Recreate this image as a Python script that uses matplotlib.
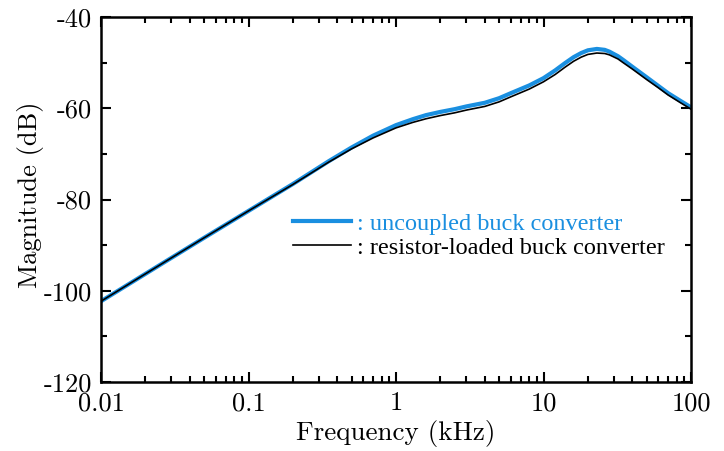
import numpy as np
import matplotlib.pyplot as plt
from matplotlib.lines import Line2D

plt.rcParams['axes.unicode_minus'] = False

# frequency points (kHz) and magnitudes (dB)
freq = [0.01, 0.02, 0.03, 0.05, 0.1, 0.2, 0.35, 0.5, 0.7, 1.0, 1.3, 1.6, 2.0,
        2.5, 3.0, 4.0, 5.0, 6.0, 8.0, 10.0, 12.0, 14.0, 16.0, 18.0, 20.0,
        23.0, 26.0, 28.0, 32.0, 35.0, 40.0, 50.0, 60.0, 70.0, 85.0, 100.0]
mag_uncoupled = [-102.3, -96.3, -92.8, -88.4, -82.5, -76.6, -71.6, -68.6,
                 -66.0, -63.7, -62.4, -61.5, -60.8, -60.2, -59.6, -58.8,
                 -57.8, -56.7, -55.0, -53.4, -51.7, -50.1, -48.8, -47.9,
                 -47.3, -47.0, -47.2, -47.6, -48.6, -49.5, -50.9, -53.2,
                 -55.1, -56.7, -58.4, -59.8]
mag_resistor = [-102.3, -96.3, -92.8, -88.4, -82.5, -76.7, -71.8, -68.9,
                -66.5, -64.3, -63.1, -62.3, -61.6, -61.0, -60.4, -59.6,
                -58.6, -57.5, -55.8, -54.2, -52.6, -51.0, -49.7, -48.8,
                -48.2, -47.9, -48.0, -48.3, -49.2, -50.1, -51.4, -53.7,
                -55.5, -57.1, -58.8, -60.2]

labels = [': uncoupled buck converter', ': resistor-loaded buck converter']
xticks = [0.01, 0.1, 1, 10, 100]
xticklabels = ['0.01', '0.1', '1', '10', '100']
yticks = [-120, -100, -80, -60, -40]
yticklabels = ['-120', '-100', '-80', '-60', '-40']

blue = '#1a8fe0'

fig = plt.figure(figsize=(7.24, 4.51), dpi=100)
ax = fig.add_axes([101 / 724, 69 / 451, 590 / 724, 365 / 451])

ax.plot(freq, mag_uncoupled, color=blue, lw=3.0, solid_capstyle='round')
ax.plot(freq, mag_resistor, color='black', lw=1.2)

ax.set_xscale('log')
ax.set_xlim(0.01, 100)
ax.set_ylim(-120, -40)

cm = 'cmr10'
ax.set_xticks(xticks)
ax.set_xticklabels(xticklabels, fontfamily=cm, fontsize=19)
ax.set_yticks(yticks)
ax.set_yticklabels(yticklabels, fontfamily=cm, fontsize=19)
ax.set_yticks([-110, -90, -70, -50], minor=True)

ax.tick_params(which='both', direction='in', top=True, right=True, width=1.5)
ax.tick_params(which='major', length=7)
ax.tick_params(which='minor', length=4)
ax.tick_params(axis='x', which='major', pad=7)
ax.tick_params(axis='y', which='major', pad=6.5)
for s in ax.spines.values():
    s.set_linewidth(1.8)

ax.set_xlabel('Frequency (kHz)', fontfamily=cm, fontsize=19.5, labelpad=3)
ax.set_ylabel('Magnitude (dB)', fontfamily=cm, fontsize=19)
ax.yaxis.set_label_coords(-0.097, 0.512)

handles = [Line2D([], [], color=blue, lw=3),
           Line2D([], [], color='black', lw=1.2)]
leg = ax.legend(handles, labels, loc='upper left', bbox_to_anchor=(0.325, 0.464),
                frameon=False, handlelength=2.4, handletextpad=0.25,
                labelspacing=0.09, borderaxespad=0, borderpad=0,
                prop={'family': 'Liberation Serif', 'size': 17.5})
leg.get_texts()[0].set_color(blue)

fig.savefig('out.png', dpi=100)
